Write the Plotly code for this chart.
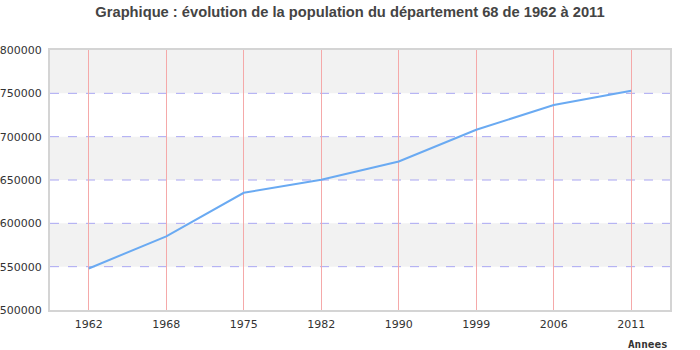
import plotly.graph_objects as go

# Population du Haut-Rhin (département 68) aux recensements
annees = ["1962", "1968", "1975", "1982", "1990", "1999", "2006", "2011"]
population = [547920, 585018, 635209, 650372, 671319, 708025, 736477, 753056]
y_ticks = [500000, 550000, 600000, 650000, 700000, 750000, 800000]

fig = go.Figure()

fig.add_trace(go.Scatter(
    x=annees, y=population, mode="lines",
    line=dict(color="#6aaaf2", width=2),
    hoverinfo="x+y", showlegend=False,
))

# Bandes grises alternées
for lo, hi in [(550000, 600000), (650000, 700000), (750000, 800000)]:
    fig.add_shape(type="rect", xref="paper", yref="y", x0=0, x1=1, y0=lo, y1=hi,
                  fillcolor="#f2f2f2", line_width=0, layer="below")

# Lignes horizontales pointillées
for v in y_ticks[1:-1]:
    fig.add_shape(type="line", xref="paper", yref="y", x0=0, x1=1, y0=v, y1=v,
                  line=dict(color="#a9a6f2", width=1, dash="dash"), layer="below")

fig.update_layout(
    width=700, height=350,
    margin=dict(l=50, r=30, t=50, b=40),
    paper_bgcolor="white", plot_bgcolor="white",
    title=dict(
        text="<b>Graphique : évolution de la population du département 68 de 1962 à 2011</b>",
        x=0.5, xanchor="center", y=0.965, yanchor="middle",
        font=dict(family="Liberation Sans, Arial, sans-serif", size=14.7, color="#444444"),
    ),
    font=dict(family="DejaVu Sans, sans-serif", size=11, color="#333333"),
)

fig.update_xaxes(
    type="category", range=[-0.5, 7.5], automargin=False,
    showgrid=True, gridcolor="#f5a9a9", gridwidth=1,
    showline=True, linecolor="#d4d4d4", linewidth=2, mirror=True,
    ticks="", ticklabelstandoff=3,
    tickfont=dict(family="DejaVu Sans, sans-serif", size=11, color="#333333"),
)
fig.update_yaxes(
    range=[500000, 800000], tickvals=y_ticks, ticktext=[str(v) for v in y_ticks],
    automargin=False, showgrid=False, zeroline=False,
    showline=True, linecolor="#d4d4d4", linewidth=2, mirror=True,
    ticks="", ticklabelstandoff=4,
    tickfont=dict(family="DejaVu Sans, sans-serif", size=11, color="#333333"),
)

fig.add_annotation(
    text="<b>Annees</b>", xref="paper", yref="paper", x=1, y=0,
    xanchor="right", yanchor="top", yshift=-26, xshift=0, showarrow=False,
    font=dict(family="DejaVu Sans Mono, monospace", size=11, color="#333333"),
)

fig.write_html("out.html")
